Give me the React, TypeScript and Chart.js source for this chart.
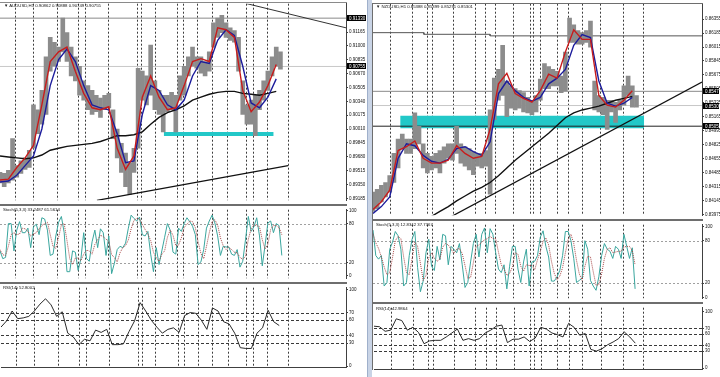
import React, { useEffect, useRef } from "react";
import { Chart, registerables } from "chart.js";
Chart.register(...registerables);

const FONT = '"Liberation Sans", Arial, sans-serif';

// ---------- LEFT: AUDUSD H1 ----------
const L_PRICE_STEP = 6;
const L_MA_STEP = 12;
const STOCH_STEP = 4;
const RSI_STEP = 8;
const L_XMAX = 496;
const L_XLABEL_BARS = [0, 40, 80, 120, 160, 200, 240, 280, 320, 360, 400];
const L_XLABELS = ["4 Mar 2014", "5 Mar 16:00", "7 Mar 08:00", "10 Mar 08:00", "11 Mar 16:00", "13 Mar 00:00", "14 Mar 08:00", "17 Mar 16:00", "19 Mar 00:00", "20 Mar 08:00", "21 Mar 16:00"];
const L_SEPARATORS = [22, 47, 82, 112, 122, 155, 197, 202, 222, 254, 263, 283, 304, 326, 352, 362, 383, 413];
const L_PRICE_TICKS = [0.89185, 0.8935, 0.89515, 0.8968, 0.89845, 0.9001, 0.90175, 0.9034, 0.90505, 0.9067, 0.90835, 0.91, 0.91165, 0.9133];

const leftHigh = [0.89495,0.89483,0.89518,0.89896,0.89575,0.89632,0.89667,0.89758,0.90298,0.90240,0.90470,0.90871,0.91101,0.91043,0.90986,0.91330,0.91158,0.90986,0.90871,0.90757,0.90584,0.90527,0.90470,0.90412,0.90378,0.90412,0.90435,0.90240,0.90011,0.89839,0.89724,0.89609,0.89781,0.90734,0.90699,0.90642,0.91009,0.90584,0.90470,0.90412,0.90412,0.90447,0.90412,0.90642,0.90757,0.90871,0.90986,0.90871,0.90871,0.90814,0.90929,0.91273,0.91330,0.91364,0.91273,0.91215,0.91181,0.91101,0.90584,0.90298,0.90355,0.90412,0.90470,0.90584,0.90699,0.90871,0.90986,0.90929];
const leftLow = [0.89369,0.89323,0.89369,0.89403,0.89437,0.89483,0.89529,0.89552,0.89781,0.89954,0.90068,0.90183,0.90699,0.90757,0.90814,0.90929,0.90814,0.90642,0.90584,0.90412,0.90355,0.90240,0.90183,0.90217,0.90149,0.90240,0.90263,0.89896,0.89667,0.89495,0.89323,0.89231,0.89495,0.89781,0.90355,0.90298,0.90412,0.90240,0.90183,0.89977,0.90217,0.90240,0.89977,0.90355,0.90412,0.90642,0.90757,0.90734,0.90676,0.90642,0.90699,0.90986,0.91101,0.91158,0.91101,0.91066,0.91043,0.90699,0.90183,0.90068,0.90068,0.89931,0.90240,0.90355,0.90470,0.90642,0.90757,0.90722];
const leftRed = [0.89403,0.89414,0.89552,0.89667,0.89816,0.90298,0.90814,0.90929,0.90986,0.90699,0.90435,0.90263,0.90240,0.90275,0.89781,0.89529,0.89690,0.90389,0.90642,0.90389,0.90240,0.90263,0.90527,0.90814,0.90848,0.90814,0.91215,0.91192,0.91101,0.90470,0.90217,0.90332,0.90527,0.90779];
const leftBlue = [0.89380,0.89391,0.89460,0.89575,0.89690,0.90011,0.90527,0.90837,0.90963,0.90814,0.90527,0.90298,0.90263,0.90240,0.89954,0.89609,0.89632,0.90183,0.90527,0.90470,0.90298,0.90240,0.90355,0.90642,0.90814,0.90791,0.91066,0.91192,0.91124,0.90757,0.90321,0.90263,0.90389,0.90607];
const leftBlack = [0.89690,0.89678,0.89667,0.89656,0.89667,0.89701,0.89758,0.89781,0.89804,0.89816,0.89827,0.89839,0.89862,0.89896,0.89931,0.89931,0.89942,0.89977,0.90068,0.90149,0.90206,0.90240,0.90286,0.90355,0.90389,0.90424,0.90447,0.90458,0.90458,0.90435,0.90424,0.90412,0.90435,0.90458];
const leftTrendUpBars = [139, 413];
const leftTrendUpPrices = [0.89162, 0.89575];
const leftTrendDownBars = [354, 496];
const leftTrendDownPrices = [0.91502, 0.91215];
const leftLevels = [0.9133, 0.90755];
const leftCyanBars = [235, 392];
const leftCyanPrice = 0.89952;
const leftStochMain = [38,26,28,80,80,38,70,83,66,66,73,43,75,79,63,89,87,70,31,33,61,82,91,66,6,6,38,36,8,26,66,26,22,52,70,43,72,66,31,61,3,19,40,45,43,50,73,93,88,84,90,63,61,68,33,6,43,17,38,59,80,70,36,33,73,68,80,89,83,76,63,17,21,40,73,84,93,81,61,31,45,44,44,33,31,40,13,22,56,91,68,75,89,61,15,47,81,84,66,80,77,31];
const leftStochSignal = [40,32,31,45,63,66,63,64,73,72,68,61,64,66,72,77,80,82,63,45,42,59,78,80,54,26,17,27,27,23,33,39,38,33,48,55,62,60,56,53,32,28,21,35,43,46,55,72,85,88,87,79,71,64,54,36,27,22,33,38,59,70,62,46,47,58,74,79,84,83,74,52,34,26,45,66,83,86,78,58,46,40,44,40,36,35,28,25,30,56,72,78,77,75,55,41,48,71,77,77,74,63];
const leftRsi = [51,59,72,62,63,65,72,81,88,80,65,71,43,38,28,35,33,47,44,48,28,28,29,45,59,83,72,60,51,43,48,50,44,66,70,69,60,48,76,72,58,55,43,24,23,23,43,50,73,58,53];

// ---------- RIGHT: NZDUSD H1 ----------
const R_XMAX = 472;
const R_XLABEL_BARS = [0, 40, 80, 120, 160, 200, 240, 280, 320, 360];
const R_XLABELS = ["5 Mar 2014", "6 Mar 13:00", "9 Mar 21:00", "11 Mar 05:00", "12 Mar 13:00", "13 Mar 21:00", "17 Mar 05:00", "18 Mar 13:00", "19 Mar 21:00", "21 Mar 05:00"];
const R_SEPARATORS = [24, 56, 77, 85, 115, 146, 161, 175, 201, 225, 230, 240, 264, 280, 300, 326, 359, 387];
const R_PRICE_TICKS = [0.83975, 0.84145, 0.84315, 0.84485, 0.84655, 0.84825, 0.84995, 0.85165, 0.85335, 0.85505, 0.85675, 0.85845, 0.86015, 0.86185, 0.86355];

const rightHigh = [0.84246,0.84282,0.84329,0.84364,0.84447,0.84718,0.84894,0.84953,0.84894,0.84894,0.85212,0.85047,0.84835,0.84718,0.84682,0.84718,0.84753,0.84800,0.84835,0.84835,0.85047,0.84835,0.84800,0.84777,0.84741,0.84718,0.84718,0.84753,0.85248,0.85636,0.85742,0.86037,0.85601,0.85542,0.85507,0.85483,0.85460,0.85401,0.85366,0.85424,0.85625,0.85813,0.85778,0.85742,0.85719,0.85660,0.85954,0.86367,0.86284,0.86214,0.86190,0.86214,0.86331,0.85601,0.85424,0.85401,0.85366,0.85366,0.85342,0.85366,0.85542,0.85660,0.85542,0.85424];
const rightLow = [0.84011,0.84046,0.84128,0.84187,0.84246,0.84364,0.84541,0.84777,0.84718,0.84718,0.84777,0.84835,0.84541,0.84482,0.84517,0.84541,0.84482,0.84600,0.84659,0.84635,0.84718,0.84600,0.84564,0.84517,0.84458,0.84564,0.84541,0.84564,0.84223,0.85130,0.85366,0.85424,0.85165,0.85271,0.85248,0.85271,0.85224,0.85212,0.85189,0.85224,0.85366,0.85507,0.85507,0.85542,0.85542,0.85460,0.85483,0.86072,0.86072,0.86049,0.86049,0.86072,0.86013,0.85248,0.85224,0.85189,0.85012,0.85224,0.85095,0.85248,0.85307,0.85424,0.85283,0.85283];
const rightRed = [0.84034,0.84129,0.84270,0.84753,0.84800,0.84870,0.84659,0.84600,0.84600,0.84635,0.84812,0.84718,0.84659,0.84682,0.85012,0.85566,0.85695,0.85448,0.85389,0.85342,0.85483,0.85684,0.85636,0.85954,0.86225,0.86108,0.86108,0.85424,0.85307,0.85283,0.85366,0.85483];
const rightBlue = [0.83987,0.84070,0.84187,0.84659,0.84835,0.84812,0.84694,0.84623,0.84600,0.84647,0.84777,0.84800,0.84741,0.84694,0.84859,0.85448,0.85601,0.85483,0.85401,0.85354,0.85401,0.85566,0.85636,0.85742,0.86037,0.86167,0.86131,0.85601,0.85330,0.85295,0.85330,0.85401];
const rightBlack = [null,null,null,null,null,null,null,0.83952,0.84011,0.84070,0.84140,0.84199,0.84258,0.84305,0.84364,0.84447,0.84541,0.84635,0.84718,0.84800,0.84882,0.84965,0.85059,0.85153,0.85212,0.85248,0.85271,0.85295,0.85330,0.85366,0.85389,0.85413];
const rightSlowBars = [0, 73, 73, 168, 168, 472];
const rightSlowPrices = [0.8619, 0.8619, 0.8617, 0.8617, 0.86151, 0.86151];
const rightTrendBars = [113, 472];
const rightTrendPrices = [0.83952, 0.85589];
const rightLevels = [0.85475, 0.85302, 0.8505];
const rightCyanBars = [39, 389];
const rightCyanTop = 0.85177;
const rightCyanBottom = 0.85024;
const rightStochMain = [95,59,54,59,16,21,68,78,93,87,68,16,21,59,82,93,42,8,23,63,82,44,38,72,53,89,87,46,72,68,63,76,46,14,21,50,76,89,57,89,98,63,97,89,63,40,35,46,12,44,72,72,40,21,50,68,16,50,51,59,85,94,72,57,23,23,29,38,59,93,93,80,55,21,24,27,80,68,24,16,10,29,59,76,68,65,55,72,68,55,89,72,55,70,12];
const rightStochSignal = [90,77,69,57,43,32,35,56,80,86,83,57,35,32,54,78,72,48,24,31,56,63,55,51,54,71,76,74,68,62,68,69,62,45,27,28,49,72,74,78,81,83,86,83,83,64,46,40,31,34,43,63,61,44,37,46,45,45,39,53,65,79,84,74,51,34,25,30,42,63,82,89,76,52,33,24,44,58,57,36,17,18,33,55,68,70,63,64,65,65,71,72,72,66,46];
const rightRsi = [74,73,65,67,87,84,67,72,63,43,48,49,49,55,62,69,49,52,49,52,62,67,74,76,45,51,51,55,47,53,72,69,62,59,55,79,72,58,61,33,30,34,41,46,52,64,55,44];

const STOCH_TICKS = [0, 20, 80, 100];
const STOCH_LEVELS = [20, 80];
const RSI_TICKS = [0, 30, 40, 60, 70, 100];
const RSI_LEVELS = [30, 40, 60, 70];

// ---------- helpers ----------
const series = (vals: (number | null)[], step: number) => vals.map((v, i) => ({ x: i * step, y: v }));
const pairs = (xs: number[], ys: number[]) => xs.map((x, i) => ({ x, y: ys[i] }));
const line = (data: any[], color: string, width: number, order: number, extra: any = {}) => ({
  type: "line", data, borderColor: color, borderWidth: width, pointRadius: 0, fill: false, tension: 0, order, ...extra,
});
const bars = (hi: number[], lo: number[], step: number) => ({
  type: "bar",
  data: hi.map((h, i) => ({ x: i * step, y: [lo[i], h] })),
  backgroundColor: "#8c8c8c", borderWidth: 0, barThickness: 4, order: 4,
});

const vlinesPlugin = (pos: number[]) => ({
  id: "vlines",
  beforeDatasetsDraw(chart: any) {
    const { ctx, chartArea } = chart;
    const xs = chart.scales.x;
    ctx.save();
    ctx.strokeStyle = "#3c3c3c";
    ctx.lineWidth = 1;
    ctx.setLineDash([2, 2]);
    pos.forEach((b) => {
      const px = Math.round(xs.getPixelForValue(b)) + 0.5;
      ctx.beginPath();
      ctx.moveTo(px, chartArea.top);
      ctx.lineTo(px, chartArea.bottom);
      ctx.stroke();
    });
    ctx.restore();
  },
});
const levelsPlugin = (vals: number[], color: string, dash: number[]) => ({
  id: "levels",
  beforeDatasetsDraw(chart: any) {
    const { ctx, chartArea } = chart;
    const ys = chart.scales.y;
    ctx.save();
    ctx.strokeStyle = color;
    ctx.lineWidth = 1;
    ctx.setLineDash(dash);
    vals.forEach((v) => {
      const py = Math.round(ys.getPixelForValue(v)) + 0.5;
      ctx.beginPath();
      ctx.moveTo(chartArea.left, py);
      ctx.lineTo(chartArea.right, py);
      ctx.stroke();
    });
    ctx.restore();
  },
});
const hlPlugin = (vals: number[], w: number) => ({
  id: "hl",
  afterDraw(chart: any) {
    const { ctx, chartArea } = chart;
    const ys = chart.scales.y;
    ctx.save();
    ctx.font = `4.5px ${FONT}`;
    ctx.textBaseline = "middle";
    vals.forEach((v) => {
      const py = Math.round(ys.getPixelForValue(v));
      ctx.fillStyle = "#000";
      ctx.fillRect(chartArea.right + 1, py - 3, w, 6);
      ctx.fillStyle = "#fff";
      ctx.fillText(v.toFixed(5), chartArea.right + 3, py + 0.5);
    });
    ctx.restore();
  },
});

function buildConfig(p: any) {
  const plugins: any[] = [vlinesPlugin(p.vlines)];
  if (p.levels) plugins.push(levelsPlugin(p.levels, p.levelColor, p.levelDash));
  if (p.hl) plugins.push(hlPlugin(p.hl, p.axisW - 2));
  return {
    type: "bar",
    data: { datasets: p.datasets },
    options: {
      responsive: false,
      animation: false,
      devicePixelRatio: 1,
      events: [],
      layout: { padding: 0, autoPadding: false },
      plugins: { legend: { display: false }, tooltip: { enabled: false } },
      scales: {
        x: {
          type: "linear",
          min: 0,
          max: p.xMax,
          offset: false,
          display: !!p.xLabels,
          position: "bottom",
          grid: { display: false, offset: false },
          border: { display: true, color: "#404040" },
          afterBuildTicks: (s: any) => {
            if (p.xLabels) s.ticks = p.xLabelBars.map((v: number) => ({ value: v }));
          },
          afterFit: (s: any) => {
            s.height = p.xH || 0;
          },
          ticks: {
            autoSkip: false, maxRotation: 0, minRotation: 0, align: "start", padding: 1,
            font: { size: 4.3, family: FONT }, color: "#111",
            callback: (_v: any, i: number) => (p.xLabels ? p.xLabels[i] : ""),
          },
        },
        y: {
          type: "linear",
          position: "right",
          min: p.yMin,
          max: p.yMax,
          afterBuildTicks: (s: any) => {
            s.ticks = p.yTicks.map((v: number) => ({ value: v }));
          },
          afterFit: (s: any) => {
            s.width = p.axisW;
          },
          grid: { drawOnChartArea: false, drawTicks: true, tickLength: 2, color: "#404040" },
          border: { display: true, color: "#404040" },
          ticks: {
            autoSkip: false, padding: 1, font: { size: 4.5, family: FONT }, color: "#111",
            callback: (v: number) => p.fmt(v),
          },
        },
      },
    },
    plugins,
  };
}

function Pane({ left, top, width, height, cfg }: any) {
  const ref = useRef<HTMLCanvasElement>(null);
  useEffect(() => {
    const chart = new Chart(ref.current as any, buildConfig(cfg) as any);
    return () => chart.destroy();
  }, []);
  return (
    <canvas ref={ref} width={width} height={height}
      style={{ position: "absolute", left, top, width, height, display: "block" }} />
  );
}

const fmtPrice = (v: number) => v.toFixed(5);
const fmtInt = (v: number) => String(Math.round(v));

const RED = "#c81c1c";
const BLUE = "#1c1c9c";
const BLACK = "#111111";
const CYAN = "#22c8c8";
const TEAL = "#3aa69e";
const SIG = "#a84848";

const txt = (left: number, top: number, s: string) => (
  <div style={{ position: "absolute", left, top, fontFamily: FONT, fontSize: "4.3px", lineHeight: "5px", color: "#111", whiteSpace: "nowrap" }}>{s}</div>
);
const box = (left: number, top: number, width: number, height: number, bg: string) => (
  <div style={{ position: "absolute", left, top, width, height, background: bg }} />
);

export default function App() {
  const L_AXIS = 21;
  const R_LEFT = 373;
  const R_PLOT = 329;
  const R_AXIS = 18;

  const leftPrice = {
    xMax: L_XMAX, yMin: 0.89162, yMax: 0.91502, axisW: L_AXIS, yTicks: L_PRICE_TICKS, fmt: fmtPrice,
    vlines: L_SEPARATORS, hl: leftLevels,
    datasets: [
      line(pairs(leftTrendUpBars, leftTrendUpPrices), BLACK, 1.3, 0),
      line(pairs(leftTrendDownBars, leftTrendDownPrices), "#333", 1, 0),
      line(series(leftRed, L_MA_STEP), RED, 1.4, 1),
      line(series(leftBlue, L_MA_STEP), BLUE, 1.4, 2),
      line(series(leftBlack, L_MA_STEP), BLACK, 1.4, 3),
      bars(leftHigh, leftLow, L_PRICE_STEP),
      line(pairs([0, L_XMAX], [leftLevels[0], leftLevels[0]]), "#8a8a8a", 1, 5),
      line(pairs([0, L_XMAX], [leftLevels[1], leftLevels[1]]), "#c8c8c8", 1, 5),
      line(pairs(leftCyanBars, [leftCyanPrice, leftCyanPrice]), CYAN, 4, 6),
    ],
  };
  const leftStoch = {
    xMax: L_XMAX, yMin: -4.2, yMax: 101.4, axisW: L_AXIS, yTicks: STOCH_TICKS, fmt: fmtInt,
    vlines: L_SEPARATORS, levels: STOCH_LEVELS, levelColor: "#a0a0a0", levelDash: [2, 2],
    datasets: [
      line(series(leftStochSignal, STOCH_STEP), SIG, 1, 1, { borderDash: [1, 1] }),
      line(series(leftStochMain, STOCH_STEP), TEAL, 1, 2),
    ],
  };
  const leftRsiCfg = {
    xMax: L_XMAX, yMin: -1.25, yMax: 102.5, axisW: L_AXIS, yTicks: RSI_TICKS, fmt: fmtInt,
    vlines: L_SEPARATORS, levels: RSI_LEVELS, levelColor: "#3a3a3a", levelDash: [3, 2],
    xLabels: L_XLABELS, xLabelBars: L_XLABEL_BARS, xH: 10,
    datasets: [line(series(leftRsi, RSI_STEP), "#2a2a2a", 1, 1)],
  };

  const rightPrice = {
    xMax: R_XMAX, yMin: 0.83964, yMax: 0.86543, axisW: R_AXIS, yTicks: R_PRICE_TICKS, fmt: fmtPrice,
    vlines: R_SEPARATORS, hl: rightLevels,
    datasets: [
      line(pairs(rightTrendBars, rightTrendPrices), BLACK, 1.3, 0),
      line(series(rightRed, L_MA_STEP), RED, 1.4, 1),
      line(series(rightBlue, L_MA_STEP), BLUE, 1.4, 2),
      line(series(rightBlack, L_MA_STEP), BLACK, 1.4, 3),
      bars(rightHigh, rightLow, L_PRICE_STEP),
      line(pairs(rightSlowBars, rightSlowPrices), "#555", 1, 5),
      line(pairs([0, R_XMAX], [rightLevels[0], rightLevels[0]]), "#8a8a8a", 1, 5),
      line(pairs([0, R_XMAX], [rightLevels[1], rightLevels[1]]), "#c8c8c8", 1, 5),
      line(pairs([0, R_XMAX], [rightLevels[2], rightLevels[2]]), "#222", 1, 5),
      line(pairs(rightCyanBars, [rightCyanTop, rightCyanTop]), CYAN, 0, 6),
      line(pairs(rightCyanBars, [rightCyanBottom, rightCyanBottom]), CYAN, 0, 6, { fill: "-1", backgroundColor: CYAN }),
    ],
  };
  const rightStoch = {
    xMax: R_XMAX, yMin: -1.3, yMax: 102.6, axisW: R_AXIS, yTicks: STOCH_TICKS, fmt: fmtInt,
    vlines: R_SEPARATORS, levels: STOCH_LEVELS, levelColor: "#a0a0a0", levelDash: [2, 2],
    datasets: [
      line(series(rightStochSignal, STOCH_STEP), SIG, 1, 1, { borderDash: [1, 1] }),
      line(series(rightStochMain, STOCH_STEP), TEAL, 1, 2),
    ],
  };
  const rightRsiCfg = {
    xMax: R_XMAX, yMin: -1.7, yMax: 106.7, axisW: R_AXIS, yTicks: RSI_TICKS, fmt: fmtInt,
    vlines: R_SEPARATORS, levels: RSI_LEVELS, levelColor: "#3a3a3a", levelDash: [3, 2],
    xLabels: R_XLABELS, xLabelBars: R_XLABEL_BARS, xH: 8,
    datasets: [line(series(rightRsi, RSI_STEP), "#2a2a2a", 1, 1)],
  };

  return (
    <div style={{ position: "fixed", left: 0, top: 0, width: 720, height: 377, background: "#fff", overflow: "hidden" }}>
      <Pane left={0} top={0} width={346 + L_AXIS} height={204} cfg={leftPrice} />
      <Pane left={0} top={206} width={346 + L_AXIS} height={76} cfg={leftStoch} />
      <Pane left={0} top={284} width={346 + L_AXIS} height={93} cfg={leftRsiCfg} />
      <Pane left={R_LEFT} top={0} width={R_PLOT + R_AXIS} height={219} cfg={rightPrice} />
      <Pane left={R_LEFT} top={221} width={R_PLOT + R_AXIS} height={81} cfg={rightStoch} />
      <Pane left={R_LEFT} top={304} width={R_PLOT + R_AXIS} height={73} cfg={rightRsiCfg} />

      {box(0, 2, 347, 1, "#8a8a8a")}
      {box(0, 204, 347, 2, "#6e6e6e")}
      {box(0, 282, 347, 2, "#6e6e6e")}

      {box(367, 0, 5, 377, "#c9d4e6")}
      {box(367, 0, 1, 377, "#9fb0cb")}
      {box(372, 3, 1, 367, "#6e6e6e")}
      {box(372, 3, 331, 1, "#6e6e6e")}
      {box(372, 219, 331, 2, "#6e6e6e")}
      {box(372, 302, 331, 2, "#6e6e6e")}

      {txt(4, 3, "\u25BC AUDUSD,H1  0.90862 0.90888 0.90749 0.90755")}
      {txt(3, 207, "Stoch(5,3,3) 33.2487 61.5614")}
      {txt(3, 285, "RSI(14) 52.8002")}
      {txt(376, 4, "\u25BC NZDUSD,H1  0.85388 0.85399 0.85291 0.85301")}
      {txt(376, 222, "Stoch(5,3,3) 12.8342 37.7367")}
      {txt(376, 306, "RSI(14) 42.9864")}
    </div>
  );
}
